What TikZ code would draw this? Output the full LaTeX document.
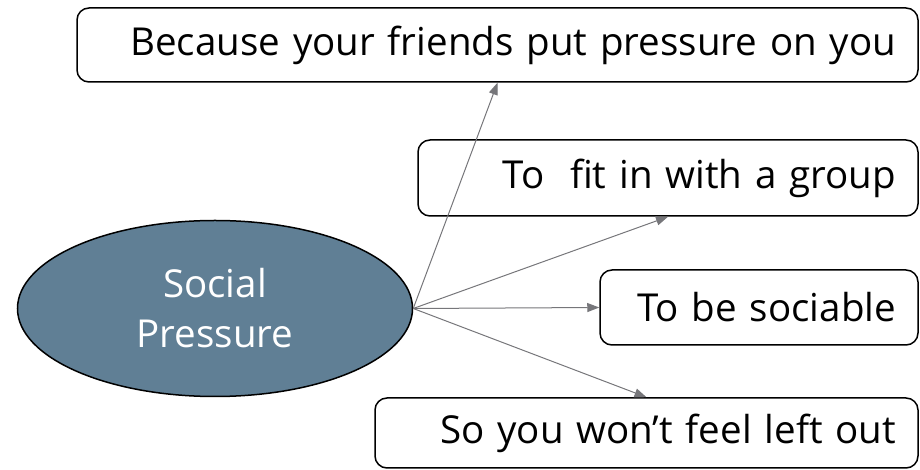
\documentclass[tikz,border=0pt]{standalone}
\usepackage{fontspec}
\setmainfont{Open Sans}
\usetikzlibrary{arrows.meta,shapes.geometric}
\definecolor{slate}{RGB}{96,127,149}
\definecolor{linkgray}{RGB}{118,118,122}

\begin{document}
\begin{tikzpicture}[x=1pt, y=1pt,
		reason/.style={draw, line width=1.5pt, rounded corners=12pt, align=right, inner xsep=22pt, inner ysep=0pt, font=\fontsize{38.5}{46}\selectfont},
		link/.style={draw=linkgray, line width=1pt, -{Triangle[length=12pt,width=9pt]}}]
	\useasboundingbox (0,0) rectangle (920,470);
	%Social Pressure
	\node [draw, ellipse, line width=1.5pt, fill=slate, text=white, align=center, minimum width=395pt, minimum height=176pt, inner sep=0pt, font=\fontsize{38.5}{50}\selectfont] (sp) at (215,161.5) {Social\\Pressure};
	
	%reasons
	\node [reason, text width=797pt, minimum height=74pt] (friends) at (497.5,425) {Because your friends put pressure on you};
	\node [reason, text width=456pt, minimum height=76pt] (group) at (668,292) {To\ \ fit in with a group};
	\node [reason, text width=274pt, minimum height=75pt] (sociable) at (759,162.5) {To be sociable};
	\node [reason, text width=499pt, minimum height=70pt] (leftout) at (646.5,37) {So you won’t feel left out};
	
	%arrows
	\draw [link] (sp.east) -- (friends.south);
	\draw [link] (sp.east) -- (group.south);
	\draw [link] (sp.east) -- (sociable.west);
	\draw [link] (sp.east) -- (leftout.north);
\end{tikzpicture}
\end{document}
